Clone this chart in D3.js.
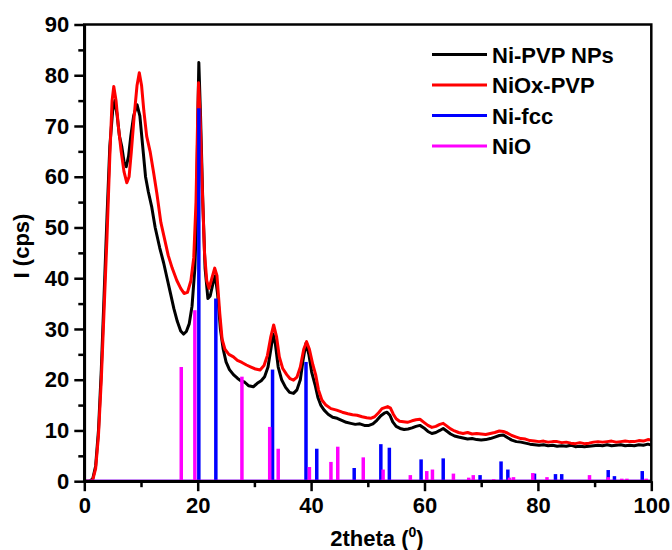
<!DOCTYPE html>
<html><head><meta charset="utf-8">
<script src="https://cdn.jsdelivr.net/npm/d3@7"></script>
<style>
html,body{margin:0;padding:0;background:#fff;}
svg text{font-family:"Liberation Sans",Arial,sans-serif;font-weight:bold;fill:#000;}
</style></head>
<body><svg id="chart" width="672" height="550"></svg>
<script>
// ---- data ----
const seriesNames = ["Ni-PVP NPs","NiOx-PVP","Ni-fcc","NiO"];
const seriesColors = ["#000000","#ff0000","#0000ff","#ff00ff"];
const xTicks = [0,20,40,60,80,100];
const yTicks = [0,10,20,30,40,50,60,70,80,90];

const niPvp = [[0,0],[1.0,0],[1.5,0.5],[2.0,3],[2.5,10],[3.0,22],[3.5,37],[4.0,52],[4.5,66],[5.0,73],[5.4,75],[5.8,72],[6.2,68],[6.6,66],[7.0,63],[7.4,62],[7.8,64],[8.2,68],[8.7,72],[9.3,74.2],[9.8,72],[10.3,66],[10.8,60],[11.3,57],[11.9,54],[12.5,50],[13.3,46],[14.0,43],[14.6,40],[15.2,37],[15.8,34],[16.4,31.5],[17.0,29.6],[17.5,29],[18.0,29.5],[18.5,31],[19.0,34.5],[19.5,42],[19.8,52],[20.0,70],[20.2,82.5],[20.5,72],[20.9,55],[21.3,42],[21.8,36],[22.2,36.5],[22.7,39],[23.1,40.5],[23.5,37],[24.0,30],[24.5,26],[25.0,23.5],[25.6,22],[26.3,21],[27.0,20.3],[27.6,19.8],[28.3,19.5],[29.0,18.8],[29.8,18.6],[30.5,19.3],[31.2,19.8],[31.8,20.6],[32.4,22.5],[32.9,26],[33.3,29],[33.7,27],[34.2,22.5],[34.8,20],[35.5,18.5],[36.2,17.5],[36.9,17.3],[37.5,18],[38.1,20],[38.6,24],[39.1,27.2],[39.6,25],[40.1,21.5],[40.7,19],[41.2,16.5],[41.7,15],[42.3,14],[43.0,13.2],[43.8,12.6],[44.6,12.4],[45.4,12.0],[46.2,11.6],[47.0,11.4],[47.8,11.2],[48.6,11.3],[49.4,11.0],[50.2,11.0],[50.9,11.3],[51.6,12.0],[52.3,12.9],[52.9,13.4],[53.4,13.6],[53.9,13.0],[54.4,11.7],[55.0,10.8],[55.7,10.4],[56.4,10.2],[57.1,10.3],[57.8,10.5],[58.5,10.8],[59.2,11.0],[59.9,10.5],[60.6,9.8],[61.3,9.4],[62.0,9.6],[62.7,10.0],[63.3,10.4],[63.9,9.9],[64.6,9.3],[65.3,8.9],[66.0,8.7],[66.8,8.5],[67.6,8.3],[68.4,8.4],[69.2,8.2],[70.0,8.1],[70.8,8.2],[71.6,8.4],[72.4,8.7],[73.2,9.0],[73.9,9.1],[74.6,8.6],[75.4,8.1],[76.2,7.8],[77.0,7.7],[77.8,7.5],[78.6,7.3],[79.4,7.2],[80.2,7.1],[81.0,7.2],[81.8,7.0],[82.6,7.1],[83.4,6.9],[84.2,7.0],[85.0,6.9],[85.8,7.1],[86.6,6.8],[87.4,6.9],[88.2,6.8],[89.0,6.9],[89.8,7.0],[90.6,7.1],[91.4,7.0],[92.2,7.2],[93.0,7.0],[93.8,7.1],[94.6,7.2],[95.4,7.0],[96.2,7.1],[97.0,7.0],[97.8,7.2],[98.6,7.1],[99.4,7.3],[100,7.1]];

const niOxPvp = [[0,0],[1.0,0],[1.5,0.3],[2.0,2.5],[2.5,9],[3.0,20],[3.5,34],[4.0,48],[4.5,64],[4.9,75],[5.2,77.8],[5.6,75],[6.0,70],[6.5,65],[7.0,61],[7.5,58.8],[7.9,60],[8.3,65],[8.8,72],[9.3,78],[9.7,80.5],[10.1,78],[10.5,73],[11.0,68],[11.6,65],[12.2,61],[12.8,56.7],[13.5,51],[14.2,47.5],[14.8,44.5],[15.5,42],[16.3,39.6],[17.0,38],[17.6,37],[18.2,37.2],[18.8,39.5],[19.3,44],[19.7,55],[20.0,72],[20.15,78.5],[20.4,73],[20.8,58],[21.2,45],[21.6,39.5],[22.0,38],[22.5,40],[23.0,42],[23.4,40.5],[23.9,33],[24.3,28],[24.8,26],[25.5,25],[26.3,24.5],[27.0,23.8],[27.8,23.4],[28.6,22.9],[29.4,22.5],[30.2,22.1],[31.0,21.9],[31.7,22.8],[32.3,24.8],[32.9,28.5],[33.4,30.8],[33.9,28.5],[34.4,24.5],[35.0,22.2],[35.7,21],[36.3,20.2],[36.9,19.9],[37.5,20.5],[38.1,22.5],[38.7,26],[39.2,27.5],[39.7,26],[40.3,23],[40.8,21],[41.3,18],[41.9,16],[42.6,15],[43.5,14.3],[44.5,14.0],[45.5,13.6],[46.5,13.3],[47.3,13.1],[48.1,13.0],[49.0,12.7],[49.8,12.5],[50.5,12.4],[51.2,12.7],[51.9,13.5],[52.5,14.3],[53.0,14.5],[53.5,14.7],[54.0,14.4],[54.5,13.2],[55.0,12.3],[55.6,11.8],[56.3,11.7],[57.0,11.6],[57.8,11.9],[58.5,12.1],[59.2,12.2],[59.9,11.6],[60.6,11.0],[61.3,10.6],[62.0,10.8],[62.7,11.2],[63.3,11.4],[63.9,10.9],[64.6,10.3],[65.3,9.9],[66.0,9.6],[66.8,9.4],[67.6,9.6],[68.4,9.3],[69.2,9.4],[70.0,9.3],[70.8,9.2],[71.6,9.4],[72.4,9.6],[73.2,9.9],[73.9,9.8],[74.6,9.5],[75.4,9.0],[76.2,8.7],[77.0,8.4],[77.8,8.3],[78.6,8.0],[79.4,7.9],[80.2,7.8],[81.0,7.9],[81.8,7.7],[82.6,7.8],[83.4,7.8],[84.2,7.6],[85.0,7.7],[85.8,7.5],[86.6,7.4],[87.4,7.6],[88.2,7.4],[89.0,7.5],[89.8,7.7],[90.6,7.8],[91.4,7.7],[92.2,7.8],[93.0,7.9],[93.8,7.7],[94.6,7.8],[95.4,7.9],[96.2,7.8],[97.0,7.8],[97.8,8.0],[98.6,7.9],[99.4,8.2],[100,8.1]];

const niFccSticks = [[20.2,73.5],[23.2,36],[33.2,22],[39.1,23.5],[41.0,6.4],[47.6,2.6],[52.3,7.3],[53.8,6.6],[59.4,4.3],[63.3,4.5],[69.8,1.2],[73.5,3.9],[74.7,2.3],[79.4,1.5],[83.1,1.4],[84.2,1.4],[92.4,2.2],[93.5,1.0],[98.4,2.0]];

const nioSticks = [[17.1,22.5],[19.5,33.7],[27.8,20.6],[32.7,10.7],[34.2,6.4],[39.7,2.8],[43.5,3.8],[44.7,6.8],[49.2,4.7],[52.7,2.3],[57.5,1.2],[60.4,2.0],[61.4,2.3],[65.1,1.5],[67.8,0.7],[68.6,1.2],[72.2,0.4],[75.0,0.7],[75.7,0.8],[79.1,1.6],[81.6,0.8],[89.1,1.2],[92.4,0.8],[94.8,0.5],[95.7,0.5],[99.1,0.5]];

// ---- layout ----
const L = 84.3, R = 651.3, T = 24.5, B = 481.2;
const svg = d3.select("#chart");
const x = d3.scaleLinear().domain([0,100]).range([L,R]);
const y = d3.scaleLinear().domain([0,90]).range([B,T]);

const line = d3.line().x(d=>x(d[0])).y(d=>y(d[1]));

const plot = svg.append("g");
plot.append("path").datum(niPvp).attr("d",line)
  .attr("fill","none").attr("stroke",seriesColors[0]).attr("stroke-width",3).attr("stroke-linejoin","round");
plot.append("path").datum(niOxPvp).attr("d",line)
  .attr("fill","none").attr("stroke",seriesColors[1]).attr("stroke-width",3).attr("stroke-linejoin","round");

function drawSticks(data,color){
  plot.append("line").attr("x1",x(0)).attr("x2",x(100)).attr("y1",y(0)).attr("y2",y(0))
    .attr("stroke",color).attr("stroke-width",3);
  plot.selectAll(null).data(data).enter().append("line")
    .attr("x1",d=>x(d[0])).attr("x2",d=>x(d[0]))
    .attr("y1",y(0)).attr("y2",d=>y(d[1]))
    .attr("stroke",color).attr("stroke-width",3.5);
}
drawSticks(niFccSticks,seriesColors[2]);
drawSticks(nioSticks,seriesColors[3]);

// ---- frame & axes ----
svg.append("rect").attr("x",L).attr("y",T).attr("width",R-L).attr("height",B-T)
  .attr("fill","none").attr("stroke","#000").attr("stroke-width",2.5);

const xMinor = d3.range(10,100,20);
const yMinor = d3.range(5,90,10);

const gx = svg.append("g").attr("transform",`translate(0,${B})`)
  .call(d3.axisBottom(x).tickValues(xTicks).tickSize(10).tickSizeOuter(0).tickPadding(6));
const gxm = svg.append("g").attr("transform",`translate(0,${B})`)
  .call(d3.axisBottom(x).tickValues(xMinor).tickSize(6).tickSizeOuter(0).tickFormat(""));
const gy = svg.append("g").attr("transform",`translate(${L},0)`)
  .call(d3.axisLeft(y).tickValues(yTicks).tickSize(10).tickSizeOuter(0).tickPadding(5));
const gym = svg.append("g").attr("transform",`translate(${L},0)`)
  .call(d3.axisLeft(y).tickValues(yMinor).tickSize(6).tickSizeOuter(0).tickFormat(""));

[gx,gxm,gy,gym].forEach(g=>{
  g.select(".domain").attr("stroke","#000").attr("stroke-width",2.5);
  g.selectAll(".tick line").attr("stroke","#000").attr("stroke-width",2.5);
  g.selectAll(".tick text").attr("font-size",22).attr("font-family","Liberation Sans, Arial, sans-serif")
    .attr("font-weight","bold").attr("fill","#000");
});

// axis titles
const xt = svg.append("text").attr("x",377).attr("y",546).attr("text-anchor","middle").attr("font-size",22);
xt.append("tspan").text("2theta (");
xt.append("tspan").text("0").attr("font-size",14).attr("dy",-9);
xt.append("tspan").text(")").attr("dy",9);

svg.append("text").attr("transform","translate(29,246) rotate(-90)")
  .attr("text-anchor","middle").attr("font-size",22).text("I (cps)");

// legend
const leg = svg.append("g");
seriesNames.forEach((name,i)=>{
  const yy = 54.5 + i*30.5;
  leg.append("line").attr("x1",432).attr("x2",487).attr("y1",yy).attr("y2",yy)
    .attr("stroke",seriesColors[i]).attr("stroke-width",3);
  leg.append("text").attr("x",492).attr("y",yy+8).attr("font-size",22).text(name);
});
</script></body></html>
